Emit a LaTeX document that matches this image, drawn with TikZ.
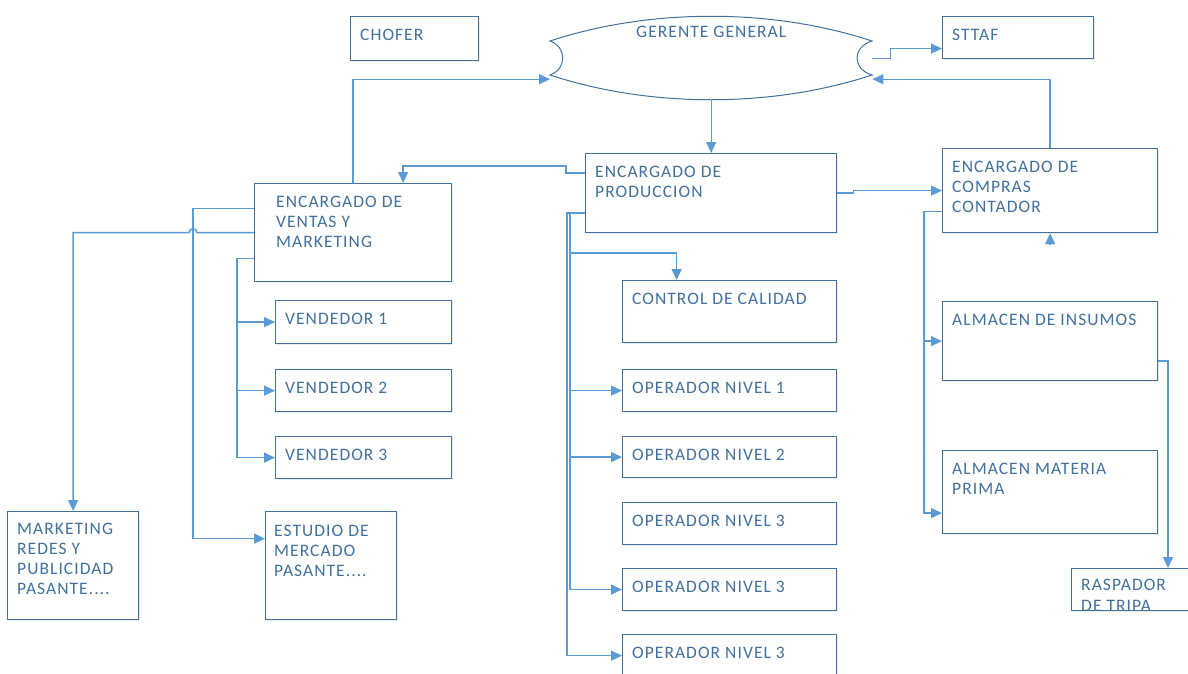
\documentclass[tikz,border=0pt]{standalone}
\usepackage{fontspec}
\setmainfont{Carlito}[LetterSpace=6]
\usetikzlibrary{arrows.meta,calc,shadows}

\definecolor{borde}{HTML}{41719C}
\definecolor{textoazul}{HTML}{41719C}
\definecolor{lineaazul}{HTML}{5B9BD5}

\begin{document}
\begin{tikzpicture}[x=1pt,y=-1pt,
  caja/.style={draw=borde, line width=1.2pt, fill=white, anchor=north west, inner sep=0pt,
    drop shadow={opacity=0.15, shadow xshift=1.5pt, shadow yshift=-1.5pt}},
  texto/.style={text=textoazul, font=\fontsize{17.5}{20}\selectfont, align=left,
    anchor=north west, inner sep=0pt, xshift=10pt, yshift=-13pt},
  contorno/.style={draw=borde, line width=1pt},
  linea/.style={draw=lineaazul, line width=1.4pt},
  flecha/.style={linea, -{Triangle[length=11pt,width=10pt]}}]
\useasboundingbox (0,0) rectangle (1188,673);

% direccion
\node[inner sep=0pt, minimum width=322pt, minimum height=84pt, anchor=north west] (gerente) at (550,16) {};
\draw[contorno] (550,41) .. controls (650,8) and (772,8) .. (872,41)
  .. controls (852,47) and (852,69) .. (872,75)
  .. controls (772,108) and (650,108) .. (550,75)
  .. controls (567,69) and (567,47) .. cycle;
\node[texto, anchor=north, xshift=-10pt, yshift=3pt] (gerente-txt) at (gerente.north) {GERENTE GENERAL};
\coordinate (gerente-izq) at ($(gerente.west)+(0,21)$);
\coordinate (gerente-der) at ($(gerente.east)+(0,21)$);

\node[caja, minimum width=128pt, minimum height=44pt, label={[texto]north west:CHOFER}] (chofer) at (350,16) {};
\node[caja, minimum width=151pt, minimum height=42pt, label={[texto]north west:STTAF}] (sttaf) at (942,16) {};

% encargados
\node[caja, minimum width=197pt, minimum height=98pt,
  label={[texto, xshift=12pt]north west:ENCARGADO DE\\VENTAS Y\\MARKETING}] (ventas) at (254,183) {};
\node[caja, minimum width=251pt, minimum height=79pt,
  label={[texto]north west:ENCARGADO DE\\PRODUCCION}] (produccion) at (585,153) {};
\node[caja, minimum width=215pt, minimum height=84pt,
  label={[texto]north west:ENCARGADO DE\\COMPRAS\\CONTADOR}] (compras) at (942,148) {};

% ventas
\node[caja, minimum width=176pt, minimum height=43pt, label={[texto]north west:VENDEDOR 1}] (vend1) at (275,300) {};
\node[caja, minimum width=176pt, minimum height=42pt, label={[texto]north west:VENDEDOR 2}] (vend2) at (275,369) {};
\node[caja, minimum width=176pt, minimum height=42pt, label={[texto]north west:VENDEDOR 3}] (vend3) at (275,436) {};
\node[caja, minimum width=131pt, minimum height=108pt,
  label={[texto, yshift=1pt]north west:MARKETING\\REDES Y\\PUBLICIDAD\\PASANTE....}] (marketing) at (7,511) {};
\node[caja, minimum width=131pt, minimum height=108pt,
  label={[texto, xshift=-1pt, yshift=-1pt]north west:ESTUDIO DE\\MERCADO\\PASANTE....}] (estudio) at (265,511) {};

% produccion
\node[caja, minimum width=214pt, minimum height=62pt, label={[texto]north west:CONTROL DE CALIDAD}] (calidad) at (622,280) {};
\node[caja, minimum width=214pt, minimum height=42pt, label={[texto]north west:OPERADOR NIVEL 1}] (op1) at (622,369) {};
\node[caja, minimum width=214pt, minimum height=41pt, label={[texto]north west:OPERADOR NIVEL 2}] (op2) at (622,436) {};
\node[caja, minimum width=214pt, minimum height=42pt, label={[texto]north west:OPERADOR NIVEL 3}] (op3a) at (622,502) {};
\node[caja, minimum width=214pt, minimum height=42pt, label={[texto]north west:OPERADOR NIVEL 3}] (op3b) at (622,568) {};
\node[caja, minimum width=214pt, minimum height=42pt, label={[texto]north west:OPERADOR NIVEL 3}] (op3c) at (622,634) {};

% compras
\node[caja, minimum width=215pt, minimum height=79pt, label={[texto]north west:ALMACEN DE INSUMOS}] (insumos) at (942,301) {};
\node[caja, minimum width=215pt, minimum height=83pt,
  label={[texto]north west:ALMACEN MATERIA\\PRIMA}] (materia) at (942,450) {};
\node[caja, minimum width=194pt, minimum height=42pt] (raspador) at (1071,568) {};
\begin{scope}
  \clip ([xshift=1pt]raspador.north west) rectangle ([yshift=1pt]raspador.south east);
  \node[texto, yshift=2pt, font=\fontsize{17.5}{21}\selectfont] (raspador-txt) at (raspador.north west) {RASPADOR\\DE TRIPA};
\end{scope}

% conectores
\draw[flecha] (ventas.north) |- (gerente-izq);
\draw[flecha] (compras.north) |- (gerente-der);
\draw[flecha] (gerente.south) -- (gerente.south |- produccion.north);
\draw[flecha] (gerente.east) -- ++(18,0) |- ([yshift=-11pt]sttaf.west);
\draw[flecha] ([yshift=20pt]produccion.west) -- ++(-19,0) -- ++(0,-7) -| ([xshift=50pt]ventas.north);
\draw[flecha] (produccion.east) -- ++(16,0) |- (compras.west);

\draw[flecha] ([yshift=24pt]ventas.west) -- ++(-61,0) |- ([yshift=27pt]estudio.west);
\draw[flecha] (ventas.west) -- ++(-57,0) arc[start angle=0, end angle=180, radius=4pt] -| (marketing.north);
\draw[flecha] ([yshift=-26pt]ventas.west) -- ++(-17,0) coordinate (rv) |- (vend3.west);
\draw[flecha] (rv |- vend1.west) -- (vend1.west);
\draw[flecha] (rv |- vend2.west) -- (vend2.west);

\draw[flecha] ([yshift=-20pt]produccion.west) -- ++(-18,0) coordinate (rp) |- (op3c.west);
\draw[flecha] ([yshift=-20pt]produccion.west) -- ++(-15,0) coordinate (rq) |- (op3b.west);
\draw[flecha] (rq |- op1.west) -- (op1.west);
\draw[flecha] (rq |- op2.west) -- (op2.west);
\draw[flecha] ($(rq)+(0,40)$) -| ([xshift=-53pt]calidad.north);

\draw[flecha] ([yshift=-21pt]compras.west) -- ++(-18,0) coordinate (rc) |- ([yshift=-21pt]materia.west);
\draw[flecha] (rc |- insumos.west) -- (insumos.west);
\draw[flecha] ([yshift=-11pt]compras.south) -- (compras.south);
\draw[flecha] ([yshift=-20pt]insumos.east) -| ([xshift=97pt]raspador.north west);
\end{tikzpicture}
\end{document}
